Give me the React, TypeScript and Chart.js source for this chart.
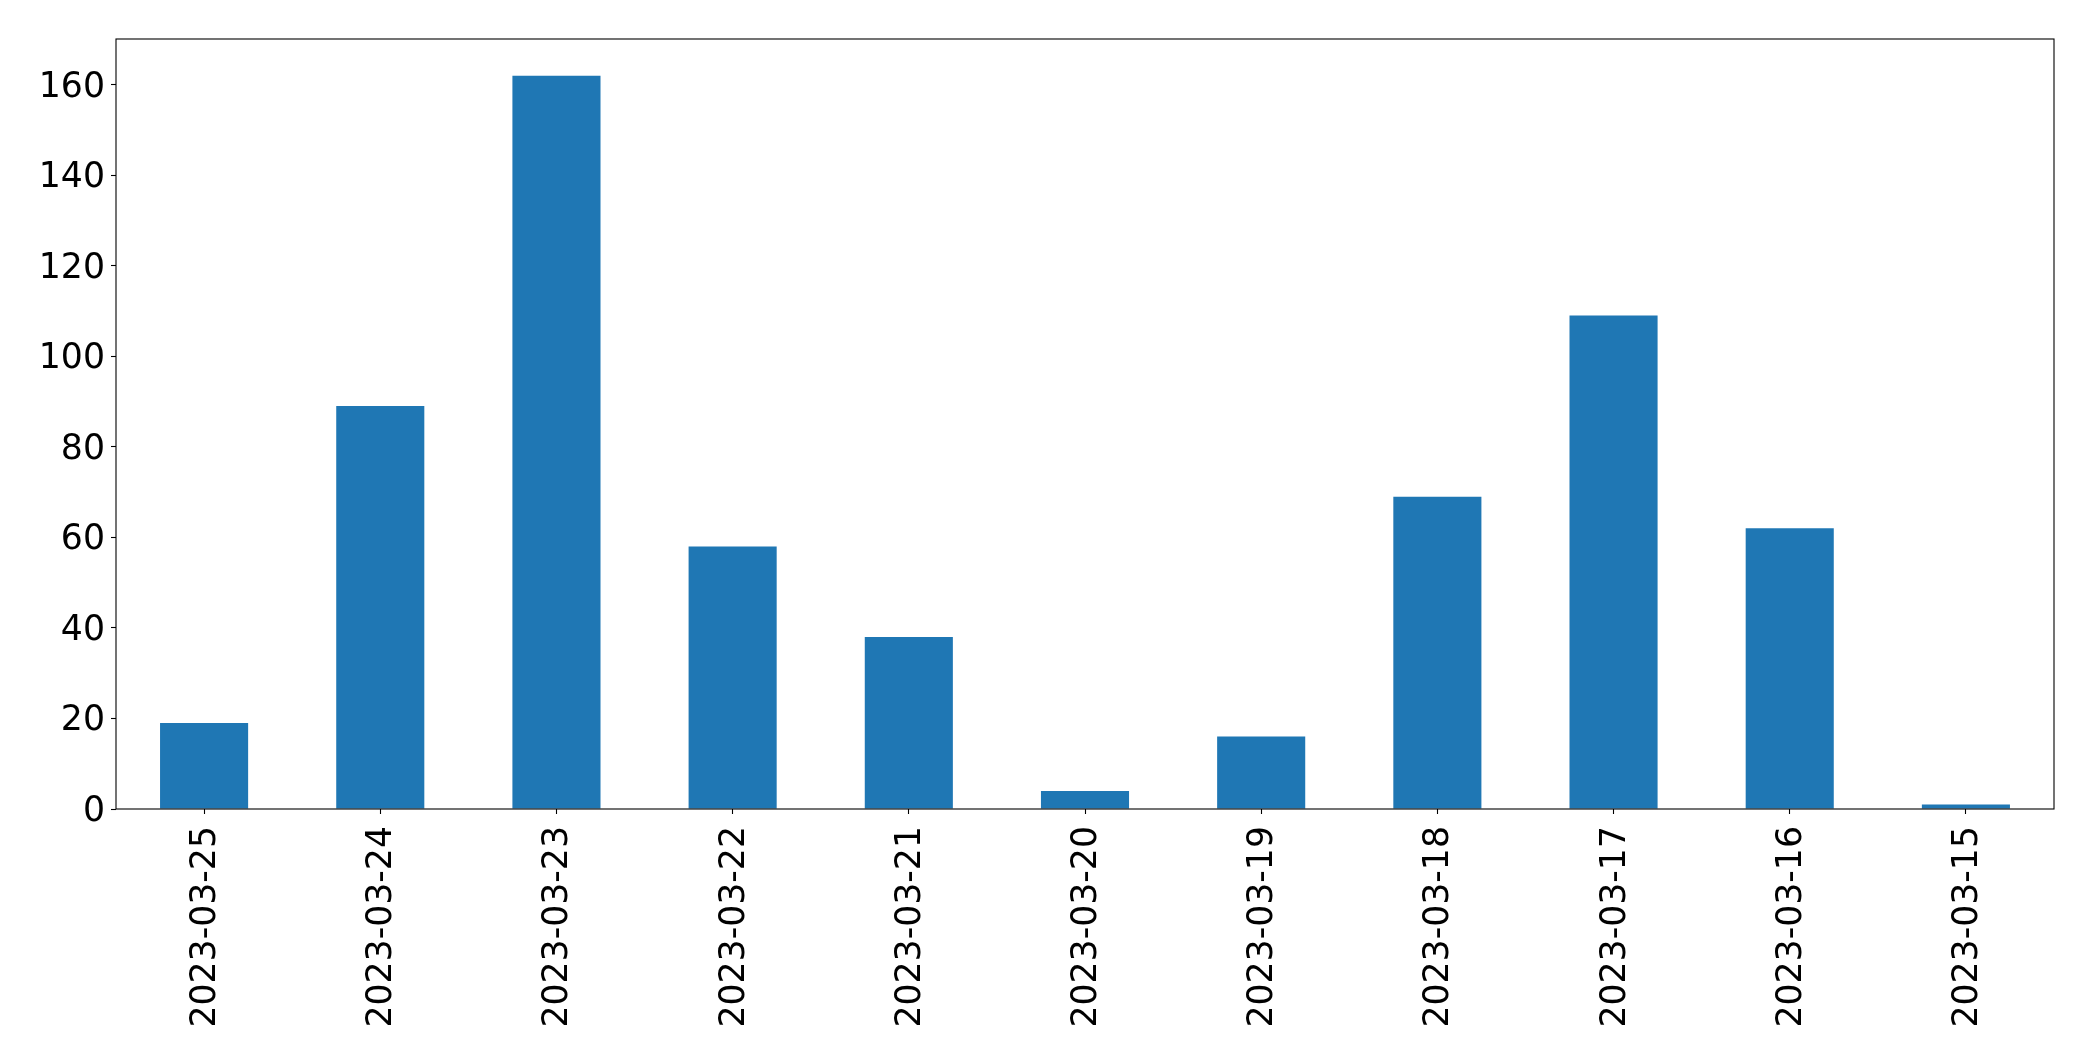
import React, { useEffect, useRef } from "react";
import { Chart, registerables } from "chart.js";

Chart.register(...registerables);

const categories = [
  "2023-03-25",
  "2023-03-24",
  "2023-03-23",
  "2023-03-22",
  "2023-03-21",
  "2023-03-20",
  "2023-03-19",
  "2023-03-18",
  "2023-03-17",
  "2023-03-16",
  "2023-03-15",
];
const counts = [19, 89, 162, 58, 38, 4, 16, 69, 109, 62, 1];
const yTickStep = 20;
const yMax = 170.1;

const W = 2093;
const H = 1061;

const frame = {
  id: "frame",
  afterDatasetsDraw(chart: any) {
    const { ctx, chartArea } = chart;
    ctx.save();
    ctx.strokeStyle = "#000";
    ctx.lineWidth = 1.1;
    ctx.strokeRect(chartArea.left, chartArea.top, chartArea.right - chartArea.left, chartArea.bottom - chartArea.top);
    ctx.restore();
  },
};

export default function App() {
  const ref = useRef<HTMLCanvasElement | null>(null);
  useEffect(() => {
    if (!ref.current) return;
    const font = { family: "'DejaVu Sans'", size: 34.7 };
    const chart = new Chart(ref.current, {
      type: "bar",
      data: {
        labels: categories,
        datasets: [
          {
            data: counts,
            backgroundColor: "#1f77b4",
            borderWidth: 0,
            categoryPercentage: 1,
            barPercentage: 0.5,
          },
        ],
      },
      options: {
        animation: false,
        responsive: false,
        maintainAspectRatio: false,
        devicePixelRatio: 1,
        layout: { padding: { left: 0, top: 39, right: 39, bottom: 0 } },
        plugins: { legend: { display: false }, tooltip: { enabled: false } },
        scales: {
          x: {
            offset: true,
            grid: {
              display: true,
              offset: false,
              drawOnChartArea: false,
              drawTicks: true,
              tickLength: 5,
              color: "#000",
              tickWidth: 1.1,
            },
            border: { display: false },
            ticks: {
              color: "#000",
              font,
              minRotation: 90,
              maxRotation: 90,
              autoSkip: false,
              padding: 12,
              labelOffset: 2,
            },
            afterFit(scale: any) {
              scale.height = 252;
            },
          },
          y: {
            min: 0,
            max: yMax,
            grid: {
              display: true,
              drawOnChartArea: false,
              drawTicks: true,
              tickLength: 5,
              color: "#000",
              tickWidth: 1.1,
            },
            border: { display: false },
            ticks: {
              color: "#000",
              font,
              stepSize: yTickStep,
              padding: 6,
              labelOffset: 3,
            },
            afterBuildTicks(scale: any) {
              scale.ticks = scale.ticks.filter((t: any) => Math.abs(t.value / yTickStep - Math.round(t.value / yTickStep)) < 1e-9);
            },
            afterFit(scale: any) {
              scale.width = 116;
            },
          },
        },
      },
      plugins: [frame],
    });
    return () => chart.destroy();
  }, []);
  return (
    <div style={{ position: "fixed", left: 0, top: 0, width: W, height: H, background: "#fff" }}>
      <canvas ref={ref} width={W} height={H} style={{ width: W, height: H, display: "block" }} />
    </div>
  );
}
